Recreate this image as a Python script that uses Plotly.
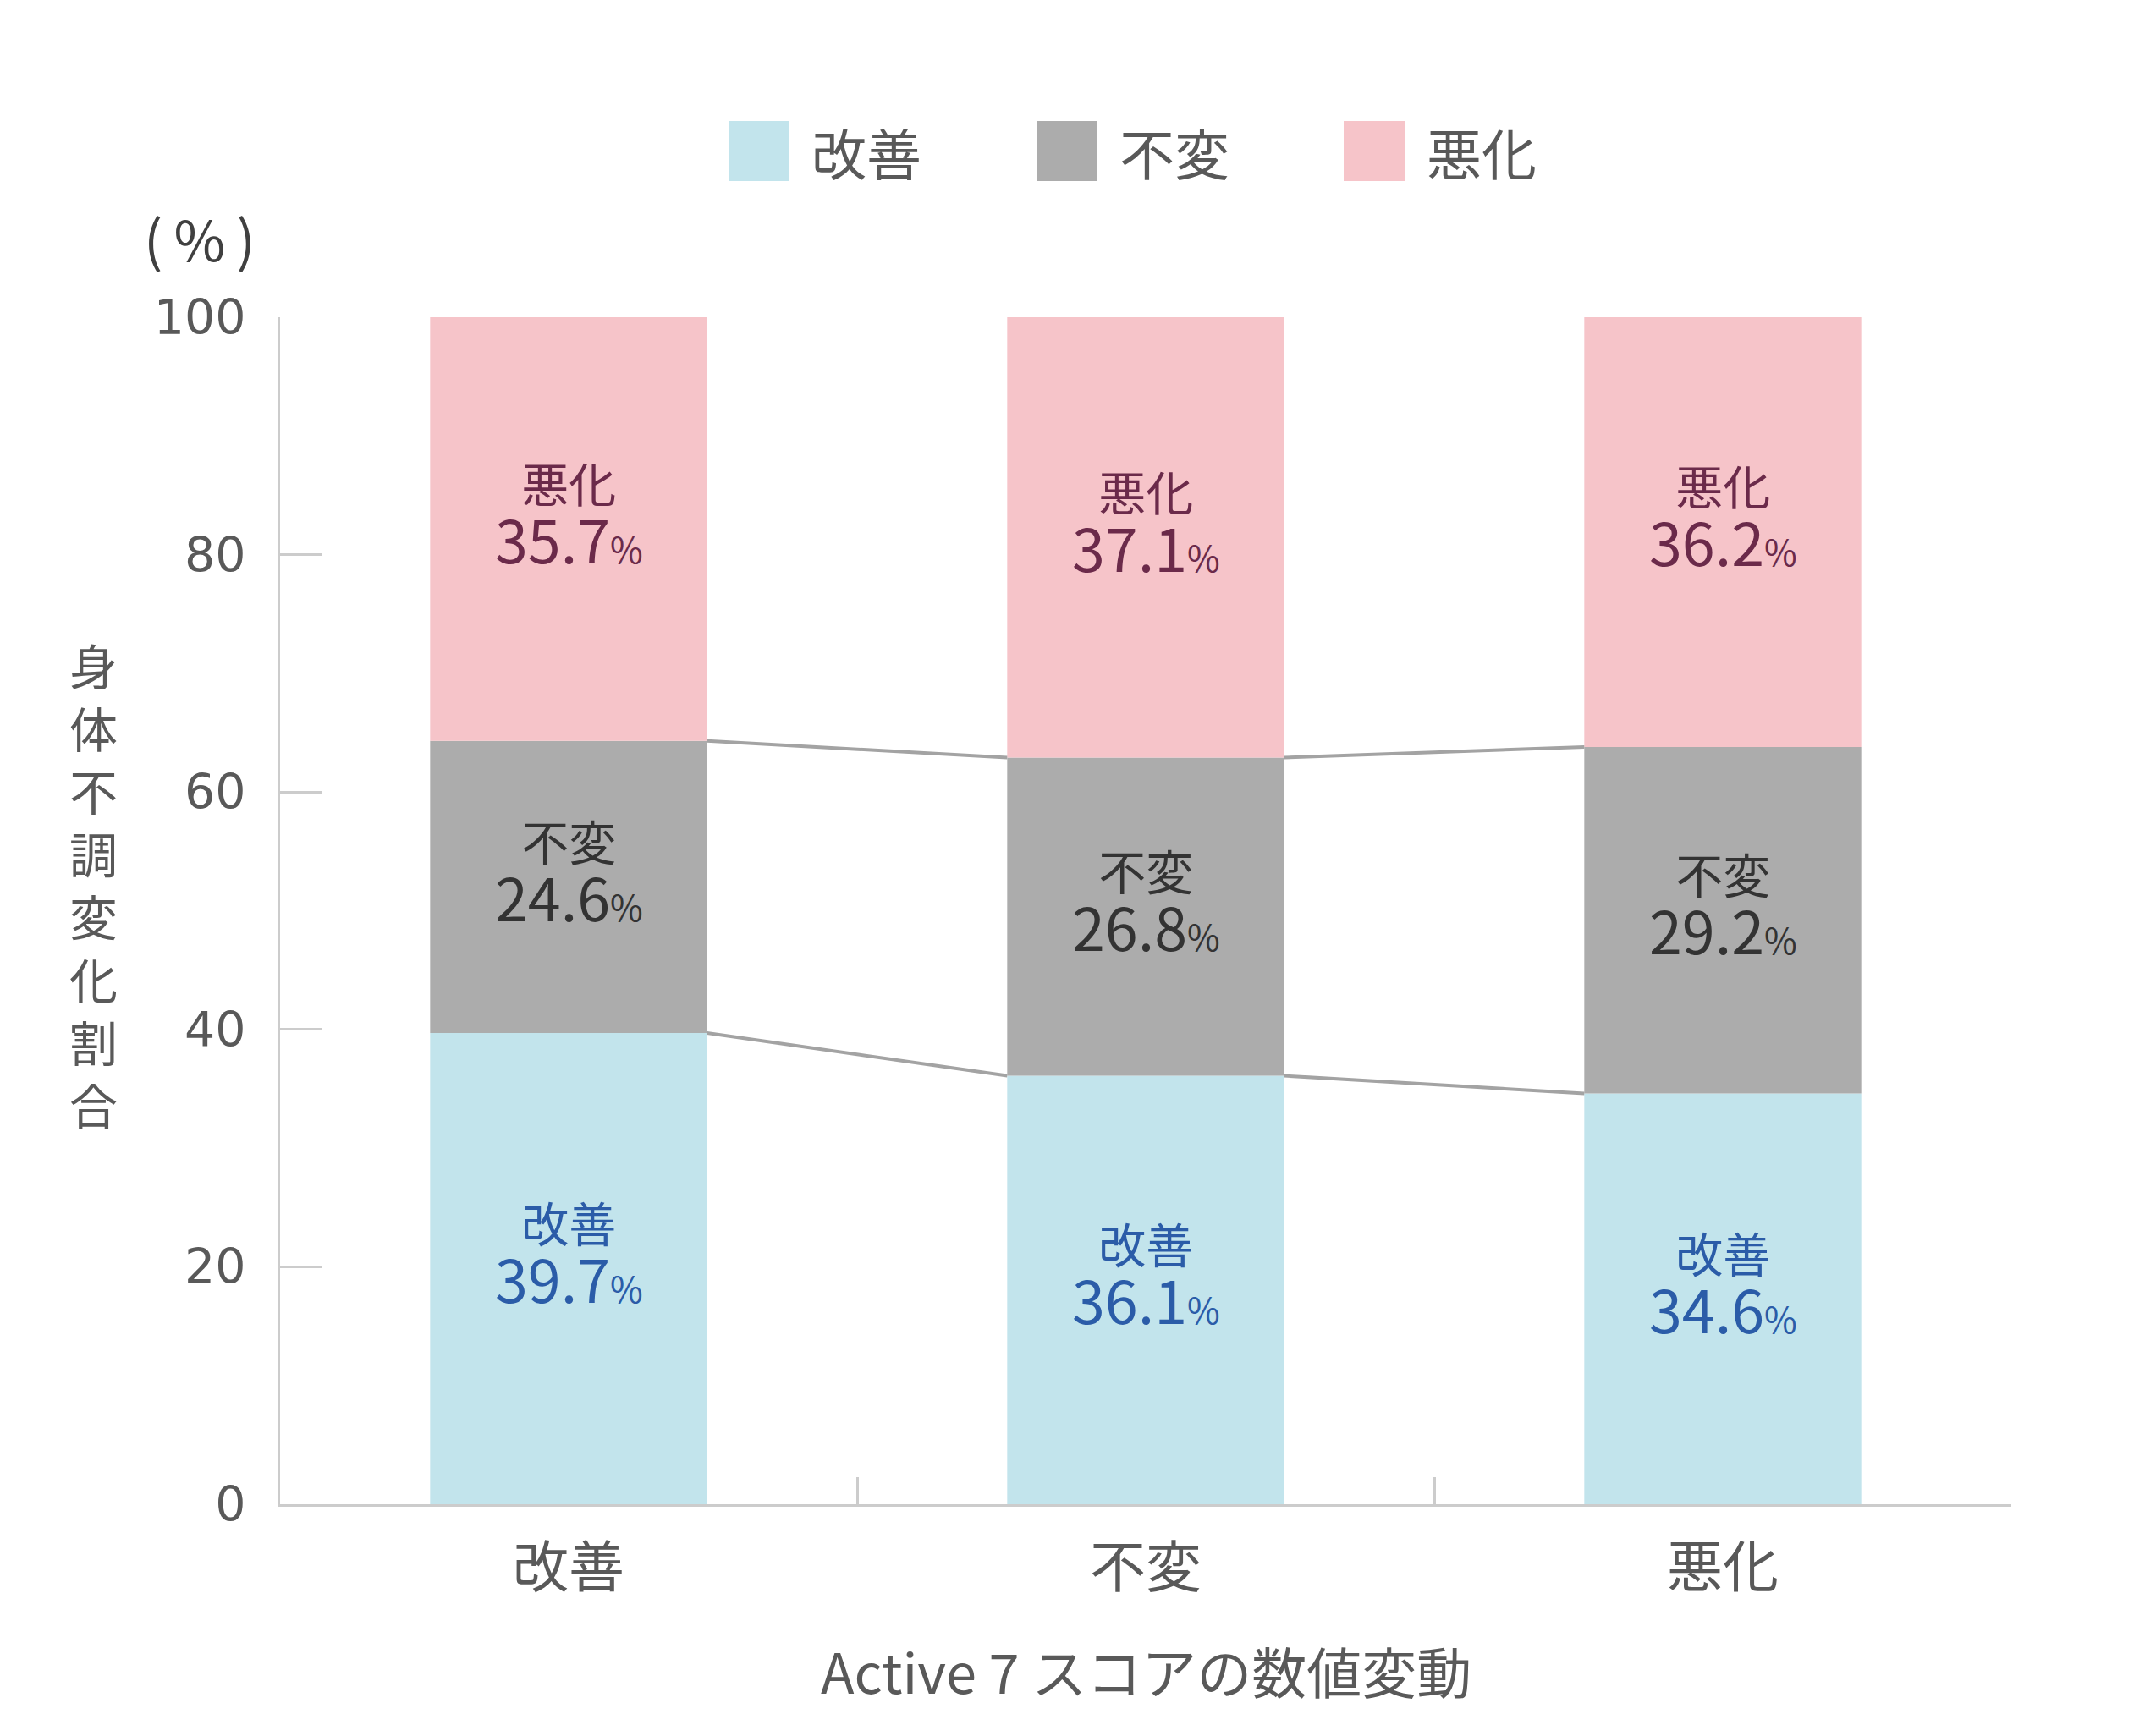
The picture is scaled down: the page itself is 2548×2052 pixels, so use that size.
import plotly.graph_objects as go

categories = ["改善", "不変", "悪化"]
series_names = ["改善", "不変", "悪化"]
improve = [39.7, 36.1, 34.6]
unchanged = [24.6, 26.8, 29.2]
worse = [35.7, 37.1, 36.2]
y_ticks = [0, 20, 40, 60, 80, 100]

bar_colors = ["#c2e4ec", "#acacac", "#f6c4c9"]
text_colors = ["#2b5ca8", "#333333", "#6b2a4a"]
FONT = "Noto Sans CJK JP"
TICK_FONT = "DejaVu Sans"
GREY = "#595959"
BAR_W = 0.48

W, H = 2548, 2052
OFF = 8  # default page body margin
L, T = 331 - OFF, 375 - OFF
PW, PH = 2046, 1403
R, B = W - L - PW, H - T - PH


def px_x(x):
    return (x - OFF - L) / PW


def px_y(y):
    return (T + PH - (y - OFF)) / PH


fig = go.Figure()
series = [improve, unchanged, worse]
bases = [[0] * 3, improve, [a + b for a, b in zip(improve, unchanged)]]
for name, vals, base, col in zip(series_names, series, bases, bar_colors):
    fig.add_trace(go.Bar(x=categories, y=vals, base=base, name=name,
                         marker=dict(color=col, line=dict(width=0)),
                         width=BAR_W, showlegend=False, hoverinfo="skip"))

# connector lines between bar tops
for tops in [bases[1], bases[2]]:
    for i in range(len(categories) - 1):
        fig.add_trace(go.Scatter(x=[i + BAR_W / 2, i + 1 - BAR_W / 2],
                                 y=[tops[i], tops[i + 1]], xaxis="x2",
                                 mode="lines", line=dict(color="#a3a3a3", width=4),
                                 showlegend=False, hoverinfo="skip"))

annotations = []
# segment labels
for name, vals, base, tc in zip(series_names, series, bases, text_colors):
    for i, c in enumerate(categories):
        annotations.append(dict(
            x=c, y=base[i] + vals[i] / 2, xref="x", yref="y",
            text=(f"<span style='font-size:56px'>{name}</span><br>"
                  f"<span style='font-size:70px'>{vals[i]:.1f}</span>"
                  f"<span style='font-size:42px'>%</span>"),
            showarrow=False, yshift=18, xanchor="center", yanchor="middle",
            font=dict(family=FONT, size=55, color=tc), align="center"))

# y-axis title (vertical)
annotations.append(dict(x=px_x(110), y=px_y(1044), xref="paper", yref="paper",
                        text="<br>".join(list("身体不調変化割合")), showarrow=False,
                        xanchor="center", yanchor="middle",
                        font=dict(family=FONT, size=57, color=GREY), align="center"))
annotations.append(dict(x=px_x(236), y=px_y(280), xref="paper", yref="paper",
                        text="(\u2009%\u2009)", showarrow=False,
                        xanchor="center", yanchor="middle",
                        font=dict(family=FONT, size=66, color="#404040")))
annotations.append(dict(x=px_x(1354), y=px_y(1974), xref="paper", yref="paper",
                        text="Active 7 スコアの数値変動", showarrow=False,
                        xanchor="center", yanchor="middle",
                        font=dict(family=FONT, size=65, color=GREY)))

# manual legend
shapes = []
leg_x0 = [861, 1225, 1588]
for name, col, lx in zip(series_names, bar_colors, leg_x0):
    shapes.append(dict(type="rect", xref="paper", yref="paper",
                       x0=px_x(lx), x1=px_x(lx + 72), y0=px_y(214), y1=px_y(143),
                       fillcolor=col, line=dict(width=0)))
    annotations.append(dict(x=px_x(lx + 96), y=px_y(179), xref="paper", yref="paper",
                            text=name, showarrow=False, xanchor="left", yanchor="middle",
                            font=dict(family=FONT, size=65, color=GREY)))

fig.update_layout(
    width=W, height=H,
    margin=dict(l=L, r=R, t=T, b=B, pad=0),
    paper_bgcolor="white", plot_bgcolor="white",
    barmode="overlay",
    annotations=annotations, shapes=shapes,
    font=dict(family=FONT, color=GREY),
    xaxis=dict(type="category", categoryorder="array", categoryarray=categories,
               range=[-0.5, 2.5], showline=True, linecolor="#cccccc", linewidth=3,
               ticks="inside", tickson="boundaries", ticklen=32, tickwidth=3,
               tickcolor="#cccccc", showgrid=False, zeroline=False,
               tickfont=dict(family=FONT, size=66, color=GREY),
               ticklabelstandoff=16),
    xaxis2=dict(overlaying="x", range=[-0.5, 2.5], visible=False),
    yaxis=dict(range=[0, 100], tickvals=y_ticks, showline=True, linecolor="#cccccc",
               linewidth=3, ticks="inside", ticklen=50, tickwidth=3, tickcolor="#cccccc",
               showgrid=False, zeroline=False,
               tickfont=dict(family=TICK_FONT, size=57, color=GREY),
               ticklabelstandoff=26),
)

fig.write_html("out.html")
